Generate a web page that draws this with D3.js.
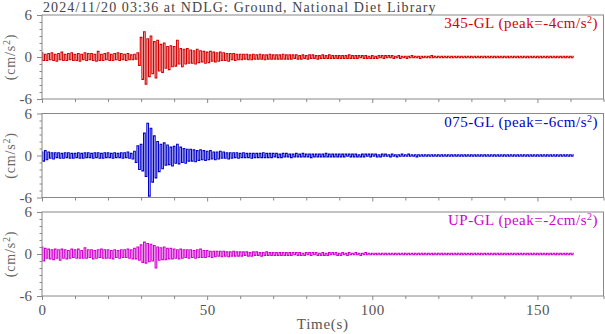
<!DOCTYPE html>
<html>
<head>
<meta charset="utf-8">
<script src="https://cdn.jsdelivr.net/npm/d3@7"></script>
<style>
  body { margin: 0; background: #fff; }
  text { font-family: "Liberation Serif", "DejaVu Serif", serif; }
</style>
</head>
<body>
<svg id="chart" width="605" height="334"></svg>
<script>
const dt = 0.5;

const acc345 = [
  .6,-.5,.4,-.5,.5,-.4,.6,-.5,.4,-.6,
  .5,-.4,.7,-.5,.4,-.5,.5,-.4,.6,-.5,
  .4,-.5,.5,-.6,.4,-.4,.6,-.5,.5,-.4,
  .5,-.5,.4,-.6,.8,-.5,.4,-.5,.5,-.4,
  .6,-.5,.4,-.5,.5,-.4,.6,-.5,.5,-.4,
  .4,-.5,.5,-.4,.3,-.4,.4,-.3,.6,-1.2,
  2.8,-3.2,3.6,-3.9,2.6,-2.8,3.0,-2.4,2.2,-3.0,
  2.4,-2.0,1.8,-2.2,2.0,-1.6,1.5,-1.8,1.6,-1.4,
  1.5,-1.3,2.4,-1.0,1.2,-1.4,1.1,-1.0,1.2,-.9,
  1.0,-.9,.9,-1.0,1.1,-.8,.9,-.7,.8,-.9,
  .7,-.8,.8,-.6,.7,-.7,.6,-.6,.7,-.5,
  .6,-.5,.5,-.6,.5,-.4,.5,-.5,.4,-.4,
  .4,-.4,.4,-.3,.4,-.4,.3,-.4,.4,-.3,
  .3,-.3,.4,-.3,.3,-.4,.3,-.3,.4,-.3,
  .3,-.3,.3,-.3,.3,-.3,.4,-.3,.3,-.3,
  .3,-.3,.3,-.2,.3,-.3,.2,-.3,.3,-.2,
  .2,-.3,.3,-.2,.3,-.2,.2,-.3,.2,-.2,
  .3,-.2,.2,-.2,.3,-.2,.2,-.2,.2,-.2,
  .2,-.2,.2,-.2,.2,-.2,.3,-.2,.2,-.2,
  .2,-.2,.2,-.1,.2,-.2,.2,-.2,.1,-.2,
  .2,-.2,.1,-.2,.2,-.1,.2,-.2,.2,-.1,
  .2,-.1,.2,-.2,.1,-.1,.2,-.2,.1,-.1,
  .1,-.2,.1,-.1,.2,-.1,.1,-.1,.1,-.2,
  .1,-.1,.1,-.1,.1,-.1,.2,-.1,.1,-.1,
  .1,-.1,.1,-.1,.1,-.1,.1,-.1,.1,-.1,
  .1,-.1,.1,-.1,.1,-.1,.1,-.1,.1,-.1,
  .1,-.1,.1,-.1,.1,-.1,.1,-.1,.1,-.1,
  .1,-.1,.1,-.1,.1,-.1,.1,-.1,.1,-.1,
  .1,-.1,.1,-.1,.1,-.1,.1,-.1,.1,-.1,
  .1,-.1,.1,-.1,.1,-.1,.1,-.1,.1,-.1,
  .1,-.1,.1,-.1,.1,-.1,.1,-.1,.1,-.1,
  .1,-.1,.1,-.1,.1,-.1,.1,-.1,.1,-.1,
  .1,-.1,.1
];

const acc075 = [
  .5,-.8,.7,-.6,.5,-.4,.4,-.5,.4,-.3,
  .4,-.4,.3,-.4,.4,-.3,.4,-.4,.3,-.4,
  .3,-.3,.4,-.4,.3,-.4,.4,-.3,.4,-.3,
  .3,-.4,.4,-.3,.4,-.4,.3,-.4,.4,-.3,
  .4,-.3,.3,-.4,.4,-.3,.3,-.3,.4,-.4,
  .4,-.3,.5,-.4,.3,-.5,.6,-1.0,1.4,-2.0,
  1.6,-2.2,3.2,-3.0,4.6,-5.8,3.9,-3.8,2.8,-3.2,
  2.0,-2.3,1.6,-1.9,1.8,-1.4,1.5,-1.3,1.2,-1.5,
  1.3,-1.1,1.6,-1.2,1.2,-1.0,1.0,-1.1,.9,-.8,
  .9,-.8,.8,-.9,.7,-.7,.8,-.6,.7,-.7,
  .6,-.6,.7,-.5,.5,-.6,.5,-.5,.6,-.4,
  .5,-.4,.4,-.5,.4,-.4,.4,-.3,.4,-.4,
  .3,-.3,.4,-.3,.3,-.3,.3,-.4,.3,-.3,
  .3,-.3,.3,-.3,.4,-.3,.3,-.3,.3,-.3,
  .3,-.2,.3,-.3,.2,-.3,.3,-.2,.3,-.2,
  .2,-.3,.2,-.2,.3,-.2,.2,-.2,.3,-.2,
  .2,-.2,.2,-.3,.2,-.2,.2,-.2,.2,-.2,
  .2,-.2,.3,-.2,.2,-.2,.2,-.2,.2,-.2,
  .2,-.2,.2,-.2,.2,-.1,.2,-.2,.2,-.2,
  .2,-.2,.1,-.2,.2,-.2,.2,-.1,.2,-.2,
  .2,-.1,.2,-.2,.1,-.2,.2,-.1,.2,-.1,
  .1,-.2,.2,-.1,.1,-.2,.1,-.1,.2,-.1,
  .1,-.1,.2,-.1,.1,-.1,.1,-.2,.1,-.1,
  .1,-.1,.1,-.1,.1,-.1,.1,-.1,.1,-.1,
  .1,-.1,.1,-.1,.1,-.1,.1,-.1,.1,-.1,
  .1,-.1,.1,-.1,.1,-.1,.1,-.1,.1,-.1,
  .1,-.1,.1,-.1,.1,-.1,.1,-.1,.1,-.1,
  .1,-.1,.1,-.1,.1,-.1,.1,-.1,.1,-.1,
  .1,-.1,.1,-.1,.1,-.1,.1,-.1,.1,-.1,
  .1,-.1,.1,-.1,.1,-.1,.1,-.1,.1,-.1,
  .1,-.1,.1,-.1,.1,-.1,.1,-.1,.1,-.1,
  .1,-.1,.1,-.1,.1,-.1,.1,-.1,.1,-.1,
  .1,-.1,.1
];

const accUP = [
  1.0,-1.0,.8,-.6,.7,-.7,.6,-.8,.7,-.6,
  .6,-.9,.7,-.6,.6,-.7,.5,-.6,.7,-.5,
  .6,-.6,.7,-.6,.5,-.6,.9,-.6,.6,-.5,
  .6,-.7,.5,-.6,.6,-.5,.7,-.6,.6,-.6,
  .6,-.6,.5,-.7,.6,-.5,.5,-.6,.6,-.5,
  .6,-.5,.7,-.6,.6,-.7,.8,-.7,1.0,-.9,
  1.3,-1.2,1.7,-1.3,1.5,-1.1,1.4,-1.0,1.2,-2.0,
  1.0,-.9,.9,-.8,1.0,-.8,.8,-.7,.8,-.7,
  .7,-.6,.6,-.7,.7,-.6,.6,-.5,.6,-.6,
  .6,-.5,.5,-.6,.6,-.5,.7,-.5,.5,-.5,
  .5,-.4,.4,-.5,.4,-.4,.4,-.3,.4,-.4,
  .4,-.3,.3,-.4,.3,-.3,.4,-.3,.3,-.3,
  .3,-.3,.3,-.2,.3,-.3,.2,-.3,.3,-.2,
  .3,-.2,.2,-.3,.2,-.2,.3,-.2,.2,-.2,
  .2,-.2,.2,-.2,.2,-.2,.2,-.2,.2,-.2,
  .2,-.2,.2,-.1,.2,-.2,.2,-.2,.1,-.2,
  .2,-.1,.2,-.2,.2,-.1,.2,-.2,.1,-.2,
  .2,-.2,.1,-.2,.2,-.1,.2,-.1,.2,-.2,
  .1,-.2,.2,-.1,.1,-.2,.2,-.1,.1,-.1,
  .2,-.1,.1,-.2,.1,-.1,.2,-.1,.1,-.1,
  .1,-.1,.1,-.1,.1,-.1,.1,-.1,.1,-.1,
  .1,-.1,.1,-.1,.1,-.1,.1,-.1,.1,-.1,
  .1,-.1,.1,-.1,.1,-.1,.1,-.1,.1,-.1,
  .1,-.1,.1,-.1,.1,-.1,.1,-.1,.1,-.1,
  .1,-.1,.1,-.1,.1,-.1,.1,-.1,.1,-.1,
  .1,-.1,.1,-.1,.1,-.1,.1,-.1,.1,-.1,
  .1,-.1,.1,-.1,.1,-.1,.1,-.1,.1,-.1,
  .1,-.1,.1,-.1,.1,-.1,.1,-.1,.1,-.1,
  .1,-.1,.1,-.1,.1,-.1,.1,-.1,.1,-.1,
  .1,-.1,.1,-.1,.1,-.1,.1,-.1,.1,-.1,
  .1,-.1,.1,-.1,.1,-.1,.1,-.1,.1,-.1,
  .1,-.1,.1,-.1,.1,-.1,.1,-.1,.1,-.1,
  .1,-.1,.1
];

const components = ["345-GL", "075-GL", "UP-GL"];
const peaks = ["-4", "-6", "-2"];
const colors = ["#d40000", "#0000c8", "#d000d0"];
const traces = [acc345, acc075, accUP];

const title = "2024/11/20 03:36 at NDLG: Ground, National Diet Library";
const xTicks = d3.range(0, 171, 10);
const xLabels = [0, 50, 100, 150];
const yTicks = d3.range(-6, 7, 1);
const yLabels = [-6, 0, 6];

const svg = d3.select("#chart");
const left = 42, right = 603.5;
const panelTop = [15, 113.5, 212], panelH = 84;

const x = d3.scaleLinear().domain([0, 170]).range([left, right]);

svg.append("text")
    .attr("x", 43).attr("y", 11.5)
    .attr("font-size", 14).attr("letter-spacing", 1.1).attr("fill", "#444")
    .text(title);

traces.forEach((trace, k) => {
  const top = panelTop[k];
  const y = d3.scaleLinear().domain([-6, 6]).range([top + panelH, top]);
  const g = svg.append("g");

  // trace: dense oscillation, drawn as stepped peaks so it reads as a band
  const line = d3.line()
      .x((d, i) => x(i * dt))
      .y(d => y(d))
      .curve(d3.curveStep);
  g.append("path")
      .datum(trace)
      .attr("d", line)
      .attr("fill", "none")
      .attr("stroke", colors[k])
      .attr("stroke-width", 1.1);

  // y axis
  const ya = g.append("g")
      .attr("transform", "translate(" + left + ",0)")
      .call(d3.axisLeft(y).tickValues(yTicks).tickSizeOuter(0).tickPadding(6)
        .tickSize(4)
        .tickFormat(d => yLabels.includes(d) ? String(d) : ""));
  ya.select(".domain").remove();
  ya.selectAll(".tick line")
      .attr("x2", d => yLabels.includes(d) ? -5 : -2.5)
      .attr("stroke", "#888");
  ya.selectAll(".tick text")
      .attr("x", -10)
      .attr("font-family", "Liberation Serif, serif")
      .attr("font-size", 15).attr("fill", "#555");

  // x axis ticks
  const xa = g.append("g")
      .attr("transform", "translate(0," + (top + panelH) + ")")
      .call(d3.axisBottom(x).tickValues(xTicks).tickSizeOuter(0).tickSize(3)
        .tickFormat(d => (k === 2 && xLabels.includes(d)) ? String(d) : ""));
  xa.select(".domain").remove();
  xa.selectAll(".tick line")
      .attr("y2", d => xLabels.includes(d) ? 4 : 3)
      .attr("stroke", "#888");
  xa.selectAll(".tick text")
      .attr("y", 19).attr("dy", 0)
      .attr("font-family", "Liberation Serif, serif")
      .attr("font-size", 15).attr("letter-spacing", 0.5).attr("fill", "#555");

  // frame
  g.append("rect")
      .attr("x", left).attr("y", top)
      .attr("width", right - left).attr("height", panelH)
      .attr("fill", "none").attr("stroke", "#888").attr("stroke-width", 1);

  // y label
  const yl = g.append("text")
      .attr("transform", "translate(15," + (top + panelH / 2) + ") rotate(-90)")
      .attr("text-anchor", "middle")
      .attr("font-size", 14).attr("letter-spacing", 0.8).attr("fill", "#666");
  yl.append("tspan").text("(cm/s");
  yl.append("tspan").attr("baseline-shift", "super").attr("font-size", 10).text("2");
  yl.append("tspan").text(")");

  // component label
  const lab = g.append("text")
      .attr("x", 598).attr("y", top + 13)
      .attr("text-anchor", "end")
      .attr("font-size", 15).attr("letter-spacing", 0.5).attr("fill", colors[k]);
  lab.append("tspan").text(components[k] + " (peak=" + peaks[k] + "cm/s");
  lab.append("tspan").attr("baseline-shift", "super").attr("font-size", 10).text("2");
  lab.append("tspan").text(")");
});

svg.append("text")
    .attr("x", (left + right) / 2).attr("y", 329)
    .attr("text-anchor", "middle")
    .attr("font-size", 15).attr("letter-spacing", 0.7).attr("fill", "#555")
    .text("Time(s)");
</script>
</body>
</html>
